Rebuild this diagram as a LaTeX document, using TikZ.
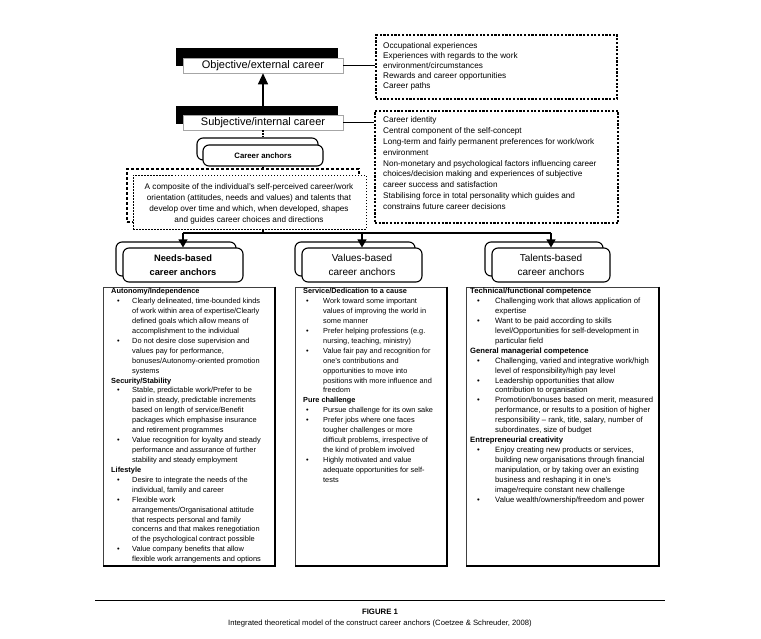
\documentclass[tikz,border=0pt]{standalone}
\usepackage{fontspec}
\setmainfont{Liberation Sans}
\usetikzlibrary{arrows.meta}
\newcommand\hd[1]{\multicolumn{2}{@{}l@{}}{\bfseries #1}}
\newcommand\bu{\makebox[\bw][l]{\hspace{\bo}\textbullet}}
\newcommand\colfont[1]{\fontsize{#1}{9.93}\selectfont}
\begin{document}
\begin{tikzpicture}[x=1pt,y=-1pt,
  conn/.style={line width=1.1pt},
  arr/.style={conn,-{Triangle[length=8pt,width=9pt]}},
  shadowbar/.style={fill=black,inner sep=0,minimum width=162pt,minimum height=18pt},
  wbox/.style={draw=gray!70,fill=white,line width=0.6pt,inner sep=0,minimum width=160pt,minimum height=15pt,font=\fontsize{11}{12}\selectfont},
  dbox/.style={draw=black,dash pattern=on 2.2pt off 1.5pt,line width=1.2pt,inner sep=0},
  rbox/.style={draw=black,fill=white,rounded corners=6pt,line width=1.1pt,inner sep=0},
  hbox/.style={rbox,minimum width=120pt,minimum height=34pt},
  colbox/.style={draw=black!75,line width=0.6pt,inner sep=0,minimum height=279pt},
  txt/.style={anchor=north west,inner sep=0}]
\useasboundingbox (0,0) rectangle (761,638);

% objective / subjective
\node[shadowbar] (objsh) at (257,57) {};
\node[wbox] (obj) at (263,65.5) {Objective/external career};
\node[shadowbar] (subsh) at (257,115) {};
\node[wbox] (sub) at (263,122.5) {Subjective/internal career};

% dashed description boxes
\node[dbox,minimum width=241pt,minimum height=64pt] (ext) at (496.5,67) {};
\node[txt] (extt) at (383,41.3) {\fontsize{8.2}{10.1}\selectfont\begin{tabular}{@{}l@{}}
Occupational experiences\\
Experiences with regards to the work\\
environment/circumstances\\
Rewards and career opportunities\\
Career paths\end{tabular}};
\node[dbox,minimum width=243pt,minimum height=112pt] (int) at (496.5,167) {};
\node[txt] (intt) at (383,115.1) {\fontsize{8.2}{10.8}\selectfont\begin{tabular}{@{}l@{}}
Career identity\\
Central component of the self-concept\\
Long-term and fairly permanent preferences for work/work\\
environment\\
Non-monetary and psychological factors influencing career\\
choices/decision making and experiences of subjective\\
career success and satisfaction\\
Stabilising force in total personality which guides and\\
constrains future career decisions\end{tabular}};

\draw[conn] (obj.east) -- (obj.east -| ext.west);
\draw[conn] (sub.east) -- (sub.east -| int.west);
\draw[conn,-{Triangle[length=11pt,width=10pt]}] (subsh.north -| obj.south) -- (obj.south);

% career anchors
\node[rbox,minimum width=121pt,minimum height=22pt] (cab) at (257.5,149) {};
\node[rbox,minimum width=120pt,minimum height=21pt,font=\fontsize{7.8}{9}\selectfont\bfseries] (ca) at (263,155.5) {Career anchors};
\draw[line width=1.2pt,dash pattern=on 1.5pt off 1.5pt] (sub.south) -- (sub.south |- cab.north);

% composite
\node[draw,line width=1.5pt,dash pattern=on 3pt off 2pt,inner sep=0,minimum width=232pt,minimum height=53pt] (compb) at (243,195.5) {};
\node[draw,line width=1pt,dash pattern=on 1.5pt off 1.5pt,fill=white,inner sep=0,minimum width=233pt,minimum height=54pt] (comp) at (249.5,202) {};
\node[anchor=north,inner sep=0] (compt) at (249,182.1) {\fontsize{8.2}{10.8}\selectfont\begin{tabular}{@{}c@{}}
A composite of the individual's self-perceived career/work\\
orientation (attitudes, needs and values) and talents that\\
develop over time and which, when developed, shapes\\
and guides career choices and directions\end{tabular}};
\draw[line width=1.2pt,dash pattern=on 2pt off 1.5pt] (ca.south) -- (ca.south |- compb.north);

% headers
\node[hbox] (nhb) at (176,259) {};
\node[hbox,align=center,font=\fontsize{9.3}{13.5}\selectfont\bfseries] (nh) at (183,265) {Needs-based\\career anchors};
\node[hbox] (vhb) at (355,259) {};
\node[hbox,align=center,font=\fontsize{10}{13.5}\selectfont] (vh) at (362,265) {Values-based\\career anchors};
\node[hbox,minimum width=118pt] (thb) at (544,259) {};
\node[hbox,minimum width=118pt,align=center,font=\fontsize{10}{13.5}\selectfont] (th) at (551,265) {Talents-based\\career anchors};

\coordinate (j) at (263,233);
\draw[conn] (ca.south |- comp.south) -- (j);
\draw[conn] (nh.north |- j) -- (th.north |- j);
\draw[arr] (nh.north |- j) -- (nh.north);
\draw[arr] (vh.north |- j) -- (vh.north);
\draw[arr] (th.north |- j) -- (th.north);

% columns
\node[colbox,minimum width=172pt] (nc) at (189,426.5) {};
\node[colbox,minimum width=151.5pt] (vc) at (370.75,426.5) {};
\node[colbox,minimum width=193pt] (tc) at (562.5,426.5) {};
\foreach \c in {nc,vc,tc}{\draw[line width=1.8pt] (\c.north east) -- (\c.south east) -- (\c.south west);}

\node[txt] (nct) at (111,286.5) {\colfont{7.4}\def\bo{6pt}\def\bw{21pt}\begin{tabular}{@{}l@{}l@{}}
\hd{Autonomy/Independence}\\
\bu & Clearly delineated, time-bounded kinds\\
& of work within area of expertise/Clearly\\
& defined goals which allow means of\\
& accomplishment to the individual\\
\bu & Do not desire close supervision and\\
& values pay for performance,\\
& bonuses/Autonomy-oriented promotion\\
& systems\\
\hd{Security/Stability}\\
\bu & Stable, predictable work/Prefer to be\\
& paid in steady, predictable increments\\
& based on length of service/Benefit\\
& packages which emphasise insurance\\
& and retirement programmes\\
\bu & Value recognition for loyalty and steady\\
& performance and assurance of further\\
& stability and steady employment\\
\hd{Lifestyle}\\
\bu & Desire to integrate the needs of the\\
& individual, family and career\\
\bu & Flexible work\\
& arrangements/Organisational attitude\\
& that respects personal and family\\
& concerns and that makes renegotiation\\
& of the psychological contract possible\\
\bu & Value company benefits that allow\\
& flexible work arrangements and options
\end{tabular}};

\node[txt] (vct) at (303,286.5) {\colfont{7.35}\def\bo{3pt}\def\bw{20pt}\begin{tabular}{@{}l@{}l@{}}
\hd{Service/Dedication to a cause}\\
\bu & Work toward some important\\
& values of improving the world in\\
& some manner\\
\bu & Prefer helping professions (e.g.\\
& nursing, teaching, ministry)\\
\bu & Value fair pay and recognition for\\
& one's contributions and\\
& opportunities to move into\\
& positions with more influence and\\
& freedom\\
\hd{Pure challenge}\\
\bu & Pursue challenge for its own sake\\
\bu & Prefer jobs where one faces\\
& tougher challenges or more\\
& difficult problems, irrespective of\\
& the kind of problem involved\\
\bu & Highly motivated and value\\
& adequate opportunities for self-\\
& tests
\end{tabular}};

\node[txt] (tct) at (470,286.5) {\colfont{7.7}\def\bo{7pt}\def\bw{25pt}\begin{tabular}{@{}l@{}l@{}}
\hd{Technical/functional competence}\\
\bu & Challenging work that allows application of\\
& expertise\\
\bu & Want to be paid according to skills\\
& level/Opportunities for self-development in\\
& particular field\\
\hd{General managerial competence}\\
\bu & Challenging, varied and integrative work/high\\
& level of responsibility/high pay level\\
\bu & Leadership opportunities that allow\\
& contribution to organisation\\
\bu & Promotion/bonuses based on merit, measured\\
& performance, or results to a position of higher\\
& responsibility – rank, title, salary, number of\\
& subordinates, size of budget\\
\hd{Entrepreneurial creativity}\\
\bu & Enjoy creating new products or services,\\
& building new organisations through financial\\
& manipulation, or by taking over an existing\\
& business and reshaping it in one's\\
& image/require constant new challenge\\
\bu & Value wealth/ownership/freedom and power
\end{tabular}};

% bottom rule and caption
\coordinate (rl) at (95,600);
\coordinate (rr) at (665,600);
\draw[line width=0.8pt] (rl) -- (rr);
\node[font=\fontsize{7.8}{9}\selectfont\bfseries] (fig) at (380,612) {FIGURE 1};
\node[font=\fontsize{7.65}{9}\selectfont] (cap) at (380,624) {Integrated theoretical model of the construct career anchors (Coetzee \& Schreuder, 2008)};
\end{tikzpicture}
\end{document}
